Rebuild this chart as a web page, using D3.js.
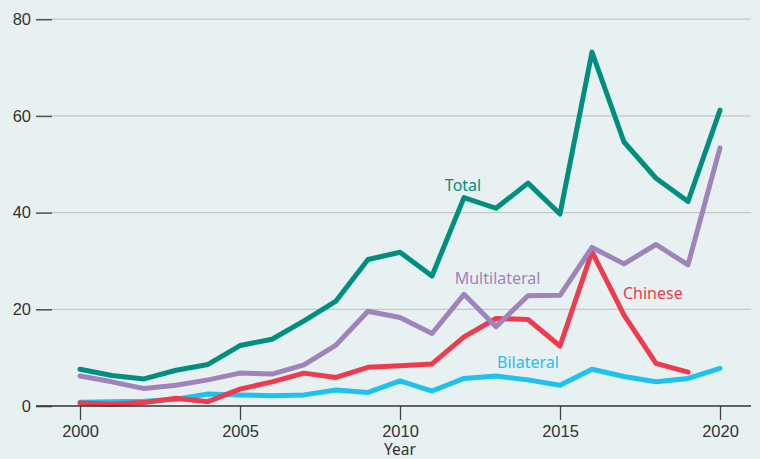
<!DOCTYPE html>
<html>
<head>
<meta charset="utf-8">
<script src="https://cdn.jsdelivr.net/npm/d3@7"></script>
<style>
  body { margin: 0; background: #e8f1f2; }
  svg { display: block; font-family: "Noto Sans", "Open Sans", sans-serif; }
</style>
</head>
<body>
<svg id="chart" width="760" height="459"></svg>
<script>
// values (billions)
const years = d3.range(2000, 2021);
const total = [7.6, 6.3, 5.6, 7.4, 8.6, 12.5, 13.8, 17.6, 21.7, 30.3, 31.8, 26.9, 43.1, 40.9, 46.1, 39.7, 73.2, 54.6, 47.1, 42.3, 61.2];
const multilateral = [6.2, 5.0, 3.6, 4.3, 5.4, 6.8, 6.6, 8.5, 12.6, 19.6, 18.3, 15.0, 23.1, 16.4, 22.8, 22.9, 32.8, 29.4, 33.4, 29.2, 53.4];
const chinese = [0.6, 0.35, 0.7, 1.6, 0.9, 3.5, 5.0, 6.8, 5.9, 8.0, 8.3, 8.7, 14.3, 18.1, 17.9, 12.4, 31.9, 18.8, 8.8, 7.0];
const bilateral = [0.8, 0.9, 1.0, 1.4, 2.5, 2.3, 2.1, 2.3, 3.3, 2.8, 5.2, 3.1, 5.7, 6.2, 5.4, 4.3, 7.6, 6.1, 5.0, 5.7, 7.8];
const yTicks = [0, 20, 40, 60, 80];
const xTicks = [2000, 2005, 2010, 2015, 2020];

const series = [
  { name: "Bilateral", values: bilateral, color: "#1fc1ef", lx: 2014, ly: 7.9 },
  { name: "Chinese", values: chinese, color: "#ee3b4d", lx: 2017.9, ly: 22.1 },
  { name: "Multilateral", values: multilateral, color: "#a083bd", lx: 2013.05, ly: 25.2 },
  { name: "Total", values: total, color: "#008e80", lx: 2011.97, ly: 44.5 }
];

const svg = d3.select("#chart");
const x = d3.scaleLinear().domain([2000, 2020]).range([80, 720]);
const y = d3.scaleLinear().domain([0, 80]).range([406, 19.2]);

// gridlines
svg.append("g")
  .selectAll("line")
  .data(yTicks.filter(d => d > 0))
  .enter().append("line")
  .attr("x1", 52).attr("x2", 751)
  .attr("y1", d => y(d)).attr("y2", d => y(d))
  .attr("stroke", "#c4c8c9").attr("stroke-width", 1.2);

// Y axis (ticks only)
const yAxis = svg.append("g")
  .attr("transform", "translate(52,0)")
  .call(d3.axisLeft(y).tickValues(yTicks).tickSize(16).tickPadding(5));
yAxis.select(".domain").remove();
yAxis.selectAll(".tick line").attr("stroke", "#555").attr("stroke-width", 1.6);
yAxis.selectAll("text").attr("font-size", 16.5).attr("fill", "#333").attr("font-family", "inherit");

// lines
const line = d3.line()
  .x((d, i) => x(years[i]))
  .y(d => y(d));

svg.append("g")
  .selectAll("path")
  .data(series)
  .enter().append("path")
  .attr("d", d => line(d.values))
  .attr("fill", "none")
  .attr("stroke", d => d.color)
  .attr("stroke-width", 5)
  .attr("stroke-linejoin", "round")
  .attr("stroke-linecap", "round");

// X axis
const xAxis = svg.append("g")
  .attr("transform", "translate(0," + y(0) + ")")
  .call(d3.axisBottom(x).tickValues(xTicks).tickFormat(d3.format("d")).tickSize(14).tickPadding(5));
xAxis.select(".domain").remove();
xAxis.selectAll(".tick line").attr("stroke", "#444").attr("stroke-width", 1.3);
xAxis.selectAll("text").attr("font-size", 16.5).attr("fill", "#333").attr("font-family", "inherit");

svg.append("line")
  .attr("x1", 36).attr("x2", 751)
  .attr("y1", y(0)).attr("y2", y(0))
  .attr("stroke", "#333").attr("stroke-width", 1.4);

svg.append("text")
  .attr("x", x(2010)).attr("y", 455)
  .attr("text-anchor", "middle")
  .attr("font-size", 15.5).attr("fill", "#333")
  .text("Year");

// series labels
svg.append("g")
  .selectAll("text")
  .data(series)
  .enter().append("text")
  .attr("x", d => x(d.lx))
  .attr("y", d => y(d.ly))
  .attr("text-anchor", "middle")
  .attr("font-size", 16)
  .attr("fill", d => d.color)
  .text(d => d.name);
</script>
</body>
</html>
